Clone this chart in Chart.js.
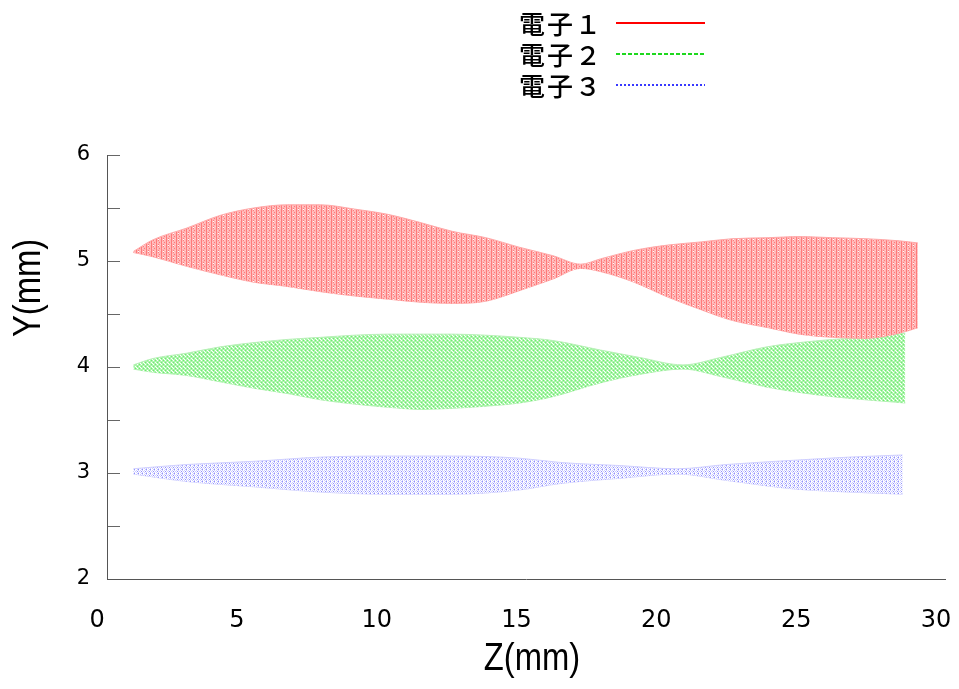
<!DOCTYPE html>
<html>
<head>
<meta charset="utf-8">
<script src="https://cdn.jsdelivr.net/npm/chart.js@4/dist/chart.umd.min.js"></script>
<style>html,body{margin:0;padding:0;background:#fff;}canvas{display:block;}</style>
</head>
<body>
<canvas id="c" width="959" height="689"></canvas>
<script>
// ---- data ----
const seriesNames = ['電子１', '電子２', '電子３'];
const xTickValues = [0, 5, 10, 15, 20, 25, 30];
const yTickValues = [2, 2.5, 3, 3.5, 4, 4.5, 5, 5.5, 6];
const xTitle = 'Z(mm)';
const yTitle = 'Y(mm)';

// 電子1 : envelope of the trajectory (upper / lower edge), Z in mm
const z1 = [1.3, 2.0, 3.2, 4.4, 5.6, 6.8, 8.0, 9.2, 10.4, 11.6, 12.7, 13.9, 15.1, 16.3, 17.3, 18.0, 19.2, 20.4, 21.6, 22.7, 24.0, 25.1, 26.3, 27.5, 28.7, 29.35];
const upper1 = [5.09, 5.20, 5.31, 5.43, 5.50, 5.53, 5.53, 5.49, 5.44, 5.36, 5.28, 5.22, 5.13, 5.05, 4.97, 5.02, 5.10, 5.15, 5.18, 5.21, 5.22, 5.23, 5.22, 5.21, 5.19, 5.17];
const lower1 = [5.08, 5.04, 4.95, 4.87, 4.80, 4.76, 4.71, 4.67, 4.64, 4.61, 4.60, 4.62, 4.72, 4.83, 4.93, 4.90, 4.80, 4.66, 4.54, 4.44, 4.37, 4.31, 4.28, 4.27, 4.32, 4.37];

// 電子2
const z2 = [1.3, 2.0, 3.2, 4.4, 5.6, 6.8, 8.0, 9.2, 10.4, 11.6, 12.7, 13.9, 15.1, 16.3, 18.0, 19.4, 20.95, 22.3, 23.95, 25.1, 26.3, 27.5, 28.9];
const upper2 = [4.02, 4.08, 4.13, 4.19, 4.23, 4.26, 4.28, 4.30, 4.31, 4.31, 4.31, 4.30, 4.28, 4.25, 4.16, 4.09, 4.02, 4.09, 4.19, 4.23, 4.26, 4.28, 4.32];
const lower2 = [3.98, 3.95, 3.92, 3.86, 3.80, 3.75, 3.69, 3.65, 3.62, 3.60, 3.61, 3.63, 3.66, 3.72, 3.85, 3.93, 3.98, 3.91, 3.81, 3.76, 3.72, 3.69, 3.66];

// 電子3
const z3 = [1.3, 3.2, 5.6, 8.0, 10.4, 12.7, 15.1, 16.55, 18.7, 20.75, 22.5, 24.9, 26.9, 28.8];
const upper3 = [3.04, 3.08, 3.11, 3.15, 3.16, 3.16, 3.14, 3.10, 3.07, 3.04, 3.08, 3.12, 3.15, 3.17];
const lower3 = [2.99, 2.92, 2.87, 2.82, 2.80, 2.80, 2.84, 2.90, 2.95, 2.99, 2.93, 2.85, 2.82, 2.80];

// ---- styles ----
function tile(rows, palette) {
  const c = document.createElement('canvas');
  c.width = rows[0].length; c.height = rows.length;
  const g = c.getContext('2d');
  rows.forEach((r, y) => [...r].forEach((ch, x) => { g.fillStyle = palette[ch]; g.fillRect(x, y, 1, 1); }));
  return g.createPattern(c, 'repeat');
}
const redFill = tile(['pRpRq', 'pRppp', 'pRqpR', 'pRppp', 'qRpRp', 'pRpwp'],
  {p: '#ffb6b6', q: '#ffcaca', R: '#ff7a7a', w: '#ffffff'});
const greenFill = tile(['gwgG', 'gggg', 'gGgw', 'wggg'],
  {g: '#aaf5aa', G: '#70e870', w: '#ffffff'});
const blueFill = tile(['bwbw', 'wbBw', 'bwbw', 'wBwb'],
  {b: '#cdcdff', B: '#9090ff', w: '#ffffff'});

function pts(zs, ys) { return zs.map((z, i) => ({x: z, y: ys[i]})); }

const bands = [
  {name: seriesNames[0], z: z1, up: upper1, lo: lower1, fill: redFill, edge: '#ffa8a8', key: '#ff0000', dash: []},
  {name: seriesNames[1], z: z2, up: upper2, lo: lower2, fill: greenFill, edge: '#b8f0b8', key: '#1ed81e', dash: [4, 2]},
  {name: seriesNames[2], z: z3, up: upper3, lo: lower3, fill: blueFill, edge: '#d0d0ff', key: '#3838ff', dash: [2, 2]}
];

const datasets = [];
bands.forEach(b => {
  datasets.push({label: b.name, data: pts(b.z, b.up), fill: '+1', backgroundColor: b.fill,
    borderColor: b.edge, borderWidth: 1, keyColor: b.key, keyDash: b.dash});
  datasets.push({label: b.name + ' (lower)', data: pts(b.z, b.lo), fill: false,
    borderColor: b.edge, borderWidth: 1});
});

const keyAndTitles = {
  id: 'keyAndTitles',
  afterDraw(chart) {
    const ctx = chart.ctx;
    ctx.save();
    let row = 0;
    chart.data.datasets.forEach(ds => {
      if (!ds.keyColor) return;
      const y = 23 + row * 31;
      ctx.font = '500 26px "Noto Sans CJK JP", "Noto Sans CJK SC", sans-serif';
      if ('letterSpacing' in ctx) ctx.letterSpacing = '2px';
      ctx.fillStyle = '#000';
      ctx.textAlign = 'right';
      ctx.textBaseline = 'middle';
      ctx.fillText(ds.label, 603, y + 1);
      if ('letterSpacing' in ctx) ctx.letterSpacing = '0px';
      ctx.beginPath();
      ctx.setLineDash(ds.keyDash);
      ctx.strokeStyle = ds.keyColor;
      ctx.lineWidth = 2;
      ctx.moveTo(616, y);
      ctx.lineTo(705, y);
      ctx.stroke();
      ctx.setLineDash([]);
      row++;
    });
    const titleFont = '39px "Liberation Sans", sans-serif';
    // horizontal axis title (condensed look)
    ctx.save();
    ctx.translate(532, 659);
    ctx.scale(0.84, 1);
    ctx.font = titleFont;
    ctx.fillStyle = '#000';
    ctx.textAlign = 'center';
    ctx.textBaseline = 'middle';
    ctx.fillText(xTitle, 0, 0);
    ctx.restore();
    // vertical axis title
    ctx.save();
    ctx.translate(29, 288);
    ctx.rotate(-Math.PI / 2);
    ctx.scale(0.84, 1);
    ctx.font = titleFont;
    ctx.fillStyle = '#000';
    ctx.textAlign = 'center';
    ctx.textBaseline = 'middle';
    ctx.fillText(yTitle, 0, 0);
    ctx.restore();
    ctx.restore();
  }
};

new Chart(document.getElementById('c'), {
  type: 'line',
  data: {datasets},
  plugins: [keyAndTitles],
  options: {
    responsive: false,
    animation: false,
    layout: {padding: {top: 155, right: 14, left: 0, bottom: 0}},
    elements: {point: {radius: 0}, line: {tension: 0, cubicInterpolationMode: 'monotone'}},
    plugins: {legend: {display: false}, tooltip: {enabled: false}},
    scales: {
      x: {
        type: 'linear', min: 0.357, max: 30.32,
        afterBuildTicks: s => { s.ticks = xTickValues.map(v => ({value: v})); },
        afterFit: s => { s.height = 110; s.paddingLeft = 0; s.paddingRight = 0; },
        grid: {display: false, drawTicks: false},
        border: {display: true, color: '#555', width: 1},
        ticks: {autoSkip: false, maxRotation: 0, padding: 27, color: '#000',
          font: {family: '"DejaVu Sans"', size: 24}},
        title: {display: false}
      },
      y: {
        type: 'linear', min: 2, max: 6,
        afterBuildTicks: s => { s.ticks = yTickValues.map(v => ({value: v})); },
        afterFit: s => { s.width = 107; },
        grid: {drawOnChartArea: false, drawTicks: true, tickLength: -13, color: '#666'},
        border: {display: true, color: '#555', width: 1},
        ticks: {autoSkip: false, padding: 30, color: '#000',
          font: {family: '"DejaVu Sans"', size: 21},
          callback: v => Number.isInteger(v) ? String(v) : ''},
        title: {display: false}
      }
    }
  }
});
</script>
</body>
</html>
